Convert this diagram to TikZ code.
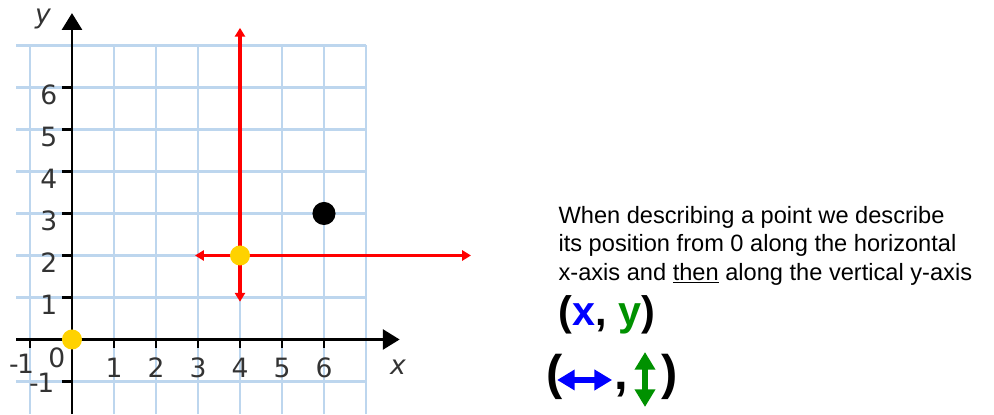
\documentclass[tikz,border=0pt]{standalone}
\usepackage{fontspec}
\usetikzlibrary{arrows.meta}
\usetikzlibrary{positioning}
\newfontfamily\arialfont{Liberation Sans}
\newfontfamily\numfont{DejaVu Sans}
\definecolor{gridblue}{RGB}{189,214,238}
\definecolor{dotyellow}{RGB}{255,210,0}
\definecolor{ygreen}{RGB}{0,145,0}
\definecolor{labelgray}{RGB}{51,51,51}

\begin{document}
\begin{tikzpicture}[>=Stealth, thick,
  coordaxis/.style={line width=1.5pt, -{Triangle[width=0.48cm, length=0.40cm]}},
  axtick/.style={line width=1.5pt},
  ticklabel/.style={font=\numfont\fontsize{18}{18}\selectfont, text=labelgray, inner sep=0pt},
  guide/.style={red, line width=2.6pt, {Triangle[width=0.24cm, length=0.21cm]}-{Triangle[width=0.24cm, length=0.21cm]}},
  ptdot/.style={circle, inner sep=0pt, minimum size=#1},
  desc/.style={font=\arialfont\fontsize{16}{19.2}\selectfont, align=left, inner sep=0pt},
  pairtext/.style={font=\arialfont\bfseries\fontsize{28}{28}\selectfont, inner sep=0pt},
  pairbig/.style={font=\arialfont\bfseries\fontsize{33}{33}\selectfont, inner sep=0pt},
  fatarrow/.style={line width=0.14cm, {Triangle[width=0.47cm, length=0.42cm]}-{Triangle[width=0.47cm, length=0.42cm]}}]
\useasboundingbox (-1.714,-1.774) rectangle (21.952,8.083);

\draw[gridblue, line width=1.7pt] (-1.33,-1.774) grid (7,7);

\coordinate (xleft) at (-1.33,0);
\coordinate (xright) at (7.8,0);
\coordinate (ybot) at (0,-1.774);
\coordinate (ytop) at (0,7.77);
\draw[coordaxis] (xleft) -- (xright);
\draw[coordaxis] (ybot) -- (ytop);

\foreach \k in {-1,1,2,3,4,5,6} {
  \draw[axtick] (-0.24,\k) -- (0,\k);
  \draw[axtick] (\k,0) -- (\k,-0.2);
}
\foreach \k in {1,...,6} {
  \node[ticklabel] (ylab\k) at (-0.55,\k-0.18) {\k};
  \node[ticklabel] (xlab\k) at (\k,-0.68) {\k};
}
\node[ticklabel] (ylabm) at (-0.72,-1.04) {-\kern-1pt 1};
\node[ticklabel] (xlabm) at (-1.2,-0.58) {-\kern-1pt 1};
\node[ticklabel] (origin) at (-0.36,-0.43) {0};
\node[ticklabel] (ylabel) at (-0.69,7.62) {\itshape y};
\node[ticklabel] (xlabel) at (7.76,-0.65) {\itshape x};

\coordinate (gdown) at (4,0.9);
\coordinate (gup) at (4,7.42);
\coordinate (gleft) at (2.93,2);
\coordinate (gright) at (9.5,2);
\draw[guide] (gdown) -- (gup);
\draw[guide] (gleft) -- (gright);

\node[ptdot=0.476cm, fill=dotyellow] (P) at (4,2) {};
\node[ptdot=0.476cm, fill=dotyellow] (O) at (0,0) {};
\node[ptdot=0.55cm, fill=black] (Q) at (6,3) {};

\node[desc, anchor=north west] (rule) at (11.571,3.18)
  {When describing a point we describe\\
   its position from 0 along the horizontal\\
   x-axis and \underline{then} along the vertical y-axis};

\node[pairtext, anchor=base west] (pair) at (11.571,0.333)
  {(\textcolor{blue}{x}, \textcolor{ygreen}{y})};

\node[pairbig, anchor=base west] (lparen) at (11.28,-1.202) {(};
\node[pairbig, anchor=base west] (comma) at (12.90,-1.202) {,};
\node[pairbig, anchor=base west] (rparen) at (14.02,-1.202) {)};
\coordinate (bl) at (11.55,-0.964);
\coordinate (br) at (12.86,-0.964);
\coordinate (gt) at (13.643,-0.298);
\coordinate (gb) at (13.643,-1.607);
\draw[fatarrow, blue] (bl) -- (br);
\draw[fatarrow, ygreen] (gt) -- (gb);
\end{tikzpicture}
\end{document}
